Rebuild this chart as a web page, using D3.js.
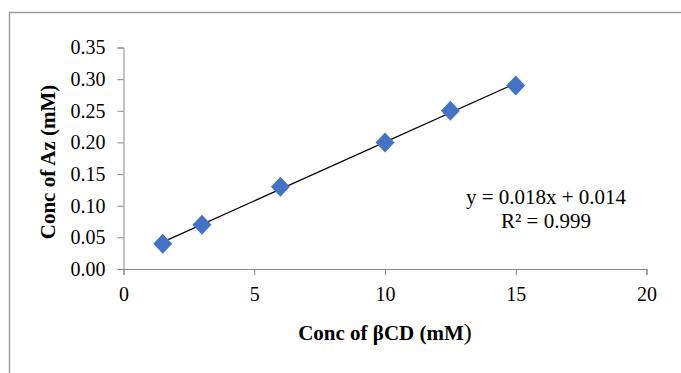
<!DOCTYPE html>
<html>
<head>
<meta charset="utf-8">
<script src="https://cdn.jsdelivr.net/npm/d3@7"></script>
<style>
  body { margin: 0; background: #fff; }
  text { font-family: "Liberation Serif", "Times New Roman", serif; fill: #000; }
</style>
</head>
<body>
<div id="chart"></div>
<script>
// data
var concCD = [1.5, 3, 6, 10, 12.5, 15];
var concAz = [0.04, 0.07, 0.13, 0.20, 0.25, 0.29];
var xTicks = [0, 5, 10, 15, 20];
var yTicks = [0, 0.05, 0.10, 0.15, 0.20, 0.25, 0.30, 0.35];
var eqLabels = ["y = 0.018x + 0.014", "R\u00b2 = 0.999"];

var W = 681, H = 373;
var svg = d3.select("#chart")
  .append("svg")
    .attr("width", W)
    .attr("height", H);

// outer frame (only top and left edges show in the picture)
svg.append("path")
  .attr("d", "M9.5," + H + " V12.5 H" + W)
  .attr("fill", "none")
  .attr("stroke", "#a0a0a0")
  .attr("stroke-width", 1.5);

var x = d3.scaleLinear().domain([0, 20]).range([123.5, 646.5]);
var y = d3.scaleLinear().domain([0, 0.35]).range([269, 47.5]);

var xAxis = svg.append("g")
  .attr("transform", "translate(0," + y(0) + ")")
  .call(d3.axisBottom(x).tickValues(xTicks).tickSize(6).tickPadding(12).tickFormat(d3.format("d")));

var yAxis = svg.append("g")
  .attr("transform", "translate(" + x(0) + ",0)")
  .call(d3.axisLeft(y).tickValues(yTicks).tickSize(6).tickPadding(12).tickFormat(d3.format(".2f")));

[xAxis, yAxis].forEach(function(g) {
  g.select(".domain").attr("stroke", "#868686");
  g.selectAll(".tick line").attr("stroke", "#868686");
  g.selectAll(".tick text")
    .attr("font-family", "Liberation Serif")
    .attr("font-size", 20)
    .attr("fill", "#000");
});

// linear trendline from least squares over the data
var mx = d3.mean(concCD), my = d3.mean(concAz);
var sxy = d3.sum(concCD, function(v, i) { return (v - mx) * (concAz[i] - my); });
var sxx = d3.sum(concCD, function(v) { return (v - mx) * (v - mx); });
var slope = sxy / sxx, icpt = my - slope * mx;
var xEnds = d3.extent(concCD);

svg.append("line")
  .attr("x1", x(xEnds[0]))
  .attr("y1", y(slope * xEnds[0] + icpt))
  .attr("x2", x(xEnds[1]))
  .attr("y2", y(slope * xEnds[1] + icpt))
  .attr("stroke", "#000")
  .attr("stroke-width", 1.3);

var pts = concCD.map(function(v, i) { return { x: v, y: concAz[i] }; });

svg.selectAll(".pt")
  .data(pts)
  .enter()
  .append("path")
    .attr("class", "pt")
    .attr("d", "M0,-10 L9.5,0 L0,10 L-9.5,0 Z")
    .attr("transform", function(d) { return "translate(" + x(d.x) + "," + y(d.y) + ")"; })
    .attr("fill", "#4472c4");

// equation labels
svg.selectAll(".eq")
  .data(eqLabels)
  .enter()
  .append("text")
    .attr("class", "eq")
    .attr("x", 546)
    .attr("y", function(d, i) { return 204 + i * 24; })
    .attr("text-anchor", "middle")
    .attr("font-size", 21)
    .text(function(d) { return d; });

// axis titles
svg.append("text")
  .attr("transform", "translate(55,162) rotate(-90)")
  .attr("text-anchor", "middle")
  .attr("font-size", 21)
  .attr("font-weight", "bold")
  .text("Conc of Az (mM)");

var xt = svg.append("text")
  .attr("x", 385)
  .attr("y", 340)
  .attr("text-anchor", "middle")
  .attr("font-size", 21)
  .attr("font-weight", "bold")
  .text("Conc of \u03b2CD (mM");
xt.append("tspan")
  .attr("font-weight", "normal")
  .attr("font-size", 24)
  .text(")");
</script>
</body>
</html>
